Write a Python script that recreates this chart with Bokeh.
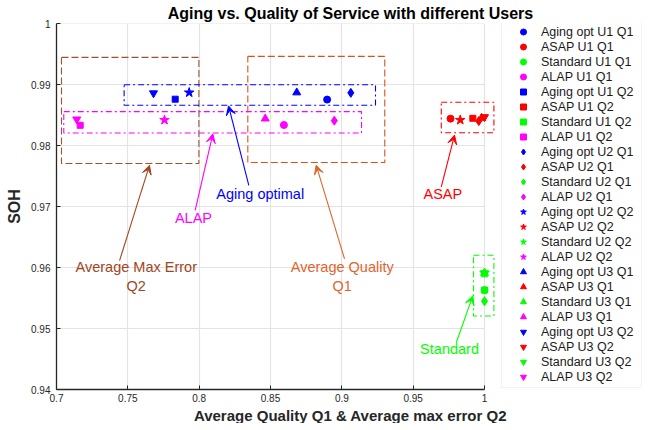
from bokeh.plotting import figure
from bokeh.models import (ColumnDataSource, FixedTicker, Legend, LegendItem, Arrow,
                          VeeHead, Title, Range1d)
from bokeh.embed import file_html
from bokeh.resources import INLINE
from bokeh.core.properties import value

FONT = "Liberation Sans"

# ---------------- data ----------------
strategies = ["Aging opt", "ASAP", "Standard", "ALAP"]
strategy_colors = ["#0000FF", "#FF0000", "#00FF00", "#FF00FF"]

series_names = ["U1 Q1", "U1 Q2", "U2 Q1", "U2 Q2", "U3 Q1", "U3 Q2"]
series_markers = ["circle", "square", "diamond", "star", "triangle", "inverted_triangle"]
series_sizes = [7, 6, 9, 10, 8, 8]

# values per series, ordered as strategies (Aging opt, ASAP, Standard, ALAP)
u1q1_x = [0.8897, 0.9762, 1.0000, 0.8594]
u1q1_y = [0.98753, 0.98440, 0.95629, 0.98336]
u1q2_x = [0.7832, 0.9918, 1.0000, 0.7166]
u1q2_y = [0.98759, 0.98446, 0.95630, 0.98331]
u2q1_x = [0.9063, 0.9960, 1.0000, 0.8947]
u2q1_y = [0.98863, 0.98400, 0.95448, 0.98407]
u2q2_x = [0.7930, 0.9830, 1.0000, 0.7757]
u2q2_y = [0.98868, 0.98418, 0.95909, 0.98418]
u3q1_x = [0.8684, 0.9980, 1.0000, 0.8463]
u3q1_y = [0.98868, 0.98451, 0.95910, 0.98440]
u3q2_x = [0.7680, 1.0000, 1.0000, 0.7142]
u3q2_y = [0.98858, 0.98468, 0.95910, 0.98430]

series_x = [u1q1_x, u1q2_x, u2q1_x, u2q2_x, u3q1_x, u3q2_x]
series_y = [u1q1_y, u1q2_y, u2q1_y, u2q2_y, u3q1_y, u3q2_y]

x_ticks = [0.7, 0.75, 0.8, 0.85, 0.9, 0.95, 1.0]
x_tick_labels = ["0.7", "0.75", "0.8", "0.85", "0.9", "0.95", "1"]
y_ticks = [0.94, 0.95, 0.96, 0.97, 0.98, 0.99, 1.0]
y_tick_labels = ["0.94", "0.95", "0.96", "0.97", "0.98", "0.99", "1"]

# grouping boxes
box_left = [0.7035, 0.8341, 0.7474, 0.7051, 0.9697, 0.9923]
box_right = [0.7998, 0.9301, 0.9236, 0.9138, 1.0066, 1.0066]
box_bottom = [0.97705, 0.97722, 0.98661, 0.98204, 0.98209, 0.95206]
box_top = [0.99445, 0.99461, 0.98995, 0.98555, 0.98710, 0.96200]
box_colors = ["#A0522D", "#D95319", "#0000FF", "#FF00FF", "#FF0000", "#00FF00"]
box_dash = ["7 3", "7 3", "6 3 2 3", "6 3 2 3", "6 3 2 3", "6 3 2 3"]

# annotation arrows and texts
arrow_x0 = [0.7442, 0.7972, 0.8348, 0.9019, 0.9697, 0.9802]
arrow_y0 = [0.96112, 0.96936, 0.97348, 0.96140, 0.97320, 0.94766]
arrow_x1 = [0.7652, 0.8096, 0.8206, 0.8820, 0.9790, 0.9918]
arrow_y1 = [0.97677, 0.98190, 0.98649, 0.97677, 0.98171, 0.95535]
note_text = ["Average Max Error\nQ2", "ALAP", "Aging optimal", "Average Quality\nQ1", "ASAP", "Standard"]
note_x = [0.7559, 0.7960, 0.8428, 0.9003, 0.9708, 0.9755]
note_y = [0.95853, 0.96809, 0.97211, 0.95859, 0.97211, 0.94667]
note_colors = ["#A0461E", "#FF00FF", "#0000FF", "#E0652D", "#FF0000", "#00FF00"]

# ---------------- figure ----------------
FRAME_W = 588
x_end = 0.7 + 0.3 * FRAME_W / 428.0

p = figure(frame_width=FRAME_W, frame_height=366,
           x_range=Range1d(0.7, x_end), y_range=Range1d(0.94, 1.0),
           output_backend="svg", toolbar_location=None,
           min_border_left=56, min_border_right=4, min_border_top=23, min_border_bottom=0)
p.outline_line_color = None
p.background_fill_color = "white"

p.title.text = "Aging vs. Quality of Service with different Users"
p.title.text_font = FONT
p.title.text_font_size = "16px"
p.title.text_font_style = "bold"
p.title.text_color = "#000000"
p.title.align = "center"
p.title.standoff = 3

# axes
for ax in (p.xaxis[0], p.yaxis[0]):
    ax.axis_line_color = "#262626"
    ax.axis_line_width = 1.3
    ax.major_tick_line_color = "#262626"
    ax.major_tick_in = 4
    ax.major_tick_out = 0
    ax.minor_tick_line_color = None
    ax.major_label_text_font = FONT
    ax.major_label_text_font_size = "10px"
    ax.major_label_text_color = "#262626"

p.xaxis[0].major_label_standoff = 4
p.yaxis[0].major_label_standoff = 6

p.xaxis[0].ticker = FixedTicker(ticks=x_ticks)
p.xaxis[0].bounds = (x_ticks[0], x_ticks[-1])
p.xaxis[0].major_label_overrides = {t: l for t, l in zip(x_ticks, x_tick_labels)}

p.yaxis[0].ticker = FixedTicker(ticks=y_ticks)
p.yaxis[0].bounds = (y_ticks[0], y_ticks[-1])
p.yaxis[0].major_label_overrides = {t: l for t, l in zip(y_ticks, y_tick_labels)}
p.yaxis[0].axis_label = "SOH"
p.yaxis[0].axis_label_text_font = FONT
p.yaxis[0].axis_label_text_font_size = "16px"
p.yaxis[0].axis_label_text_font_style = "bold"
p.yaxis[0].axis_label_text_color = "#262626"
p.yaxis[0].axis_label_standoff = 5

xlabel = Title(text="Average Quality Q1 & Average max error Q2", align="center",
               text_font=FONT, text_font_size="15px", text_font_style="bold",
               text_color="#262626", standoff=0)
p.add_layout(xlabel, "below")

# grid
p.xgrid.ticker = FixedTicker(ticks=x_ticks)
p.xgrid.grid_line_color = "#E3E3E3"
p.xgrid.grid_line_width = 1.2
p.ygrid.visible = False
p.segment(x0=[x_ticks[0]] * len(y_ticks), y0=y_ticks,
          x1=[x_ticks[-1]] * len(y_ticks), y1=y_ticks,
          line_color="#E3E3E3", line_width=1.2, level="underlay")

# boxes
for l, r, b, t, c, d in zip(box_left, box_right, box_bottom, box_top, box_colors, box_dash):
    p.quad(left=[l], right=[r], bottom=[b], top=[t], fill_alpha=0,
           line_color=c, line_width=1.1, line_dash=d)

# arrows
for x0, y0, x1, y1, c in zip(arrow_x0, arrow_y0, arrow_x1, arrow_y1, note_colors):
    p.add_layout(Arrow(end=VeeHead(size=9, fill_color=c, line_color=c, line_width=1),
                       x_start=x0, y_start=y0, x_end=x1, y_end=y1,
                       line_color=c, line_width=1.1))

# annotation texts
notes = ColumnDataSource(dict(x=note_x, y=note_y, text=note_text, color=note_colors))
p.text(x="x", y="y", text="text", text_color="color", source=notes,
       text_font=value(FONT), text_font_size="14.5px",
       text_align="center", text_baseline="middle")

# scatter series
items = []
for name, marker, size, xs, ys in zip(series_names, series_markers, series_sizes, series_x, series_y):
    for i, (strat, col) in enumerate(zip(strategies, strategy_colors)):
        r = p.scatter(x=[xs[i]], y=[ys[i]], marker=marker, size=size,
                      fill_color=col, line_color=col)
        items.append(LegendItem(label=f"{strat} {name}", renderers=[r]))

legend = Legend(items=items, location=(445, 1), padding=3, spacing=0, margin=0,
                glyph_height=15, glyph_width=36, label_height=15, label_width=97,
                label_standoff=0, label_text_font=FONT, label_text_font_size="12.5px",
                label_text_color="#1A1A1A", border_line_color="#E6E6E6",
                background_fill_color="white", background_fill_alpha=1.0)
p.add_layout(legend)

with open("out.html", "w") as f:
    f.write(file_html(p, INLINE))
